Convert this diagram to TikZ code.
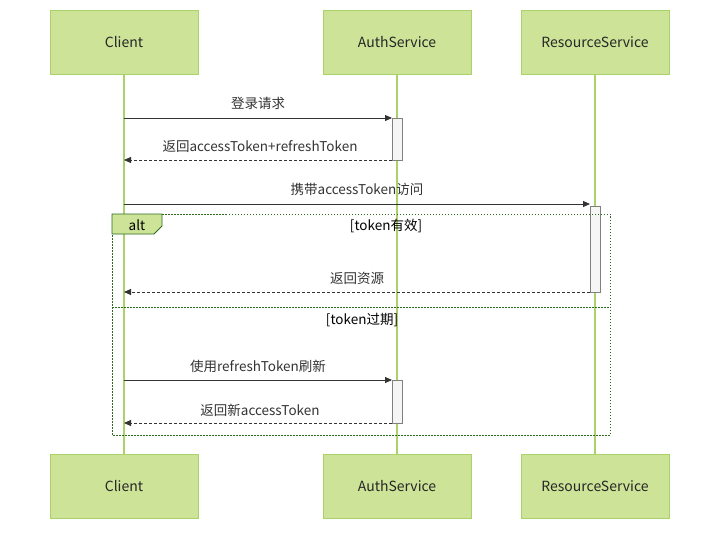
\documentclass[tikz,border=0pt]{standalone}
\usepackage{fontspec}
\setmainfont{Noto Sans CJK SC}
\usetikzlibrary{arrows.meta}
\definecolor{actfill}{HTML}{CDE498}
\definecolor{actline}{HTML}{A9D26A}
\definecolor{altline}{HTML}{2E6B1F}
\begin{document}
\begin{tikzpicture}[x=1pt,y=-1pt,
  actor/.style={draw=actline,fill=actfill,minimum width=148pt,minimum height=64pt,font=\fontsize{14}{16}\selectfont,text=black!85,line width=0.8pt},
  life/.style={draw=actline,line width=1.2pt},
  act/.style={draw=black!50,fill=black!4,line width=0.6pt},
  msg/.style={draw=black!80,line width=0.9pt,-{Triangle[length=7pt,width=6pt]}},
  ret/.style={msg,dash pattern=on 3pt off 2pt},
  lbl/.style={font=\fontsize{13.5}{15}\selectfont,text=black!80},
  alt/.style={draw=altline,line width=1pt,dash pattern=on 1.5pt off 1.5pt}]
\useasboundingbox (0,0) rectangle (727,535);
\node[actor] (c1) at (124,42) {Client};
\node[actor] (a1) at (397,42) {AuthService};
\node[actor] (r1) at (595,42) {ResourceService};
\node[actor] (c2) at (124,486) {Client};
\node[actor] (a2) at (397,486) {AuthService};
\node[actor] (r2) at (595,486) {ResourceService};
\draw[life] (c1.south) -- (c2.north);
\draw[life] (a1.south) -- (a2.north);
\draw[life] (r1.south) -- (r2.north);
% activations
\draw[act] (392,118) rectangle (402,160);
\draw[act] (590,206) rectangle (600,292);
\draw[act] (392,380) rectangle (402,423);
% alt box
\draw[alt] (112,214) rectangle (610,435);
\draw[alt] (112,307) -- (610,307);
\draw[altline,fill=actfill,line width=0.8pt] (112,214) -- (162,214) -- (162,226) -- (154,234) -- (112,234) -- cycle;
\node[lbl,text=black] (altl) at (137,225) {alt};
\node[lbl,text=black] (g1) at (386,226) {[token有效]};
\node[lbl,text=black] (g2) at (362,320) {[token过期]};
% coordinates
\coordinate (m1s) at (124,118); \coordinate (m1e) at (392,118);
\coordinate (m2s) at (392,160); \coordinate (m2e) at (124,160);
\coordinate (m3s) at (124,204); \coordinate (m3e) at (590,204);
\coordinate (m4s) at (590,292); \coordinate (m4e) at (124,292);
\coordinate (m5s) at (124,380); \coordinate (m5e) at (392,380);
\coordinate (m6s) at (392,423); \coordinate (m6e) at (124,423);
\draw[msg] (m1s) -- (m1e);
\draw[ret] (m2s) -- (m2e);
\draw[msg] (m3s) -- (m3e);
\draw[ret] (m4s) -- (m4e);
\draw[msg] (m5s) -- (m5e);
\draw[ret] (m6s) -- (m6e);
\node[lbl] (l1) at (258,103) {登录请求};
\node[lbl] (l2) at (260,146) {返回accessToken+refreshToken};
\node[lbl] (l3) at (357,189) {携带accessToken访问};
\node[lbl] (l4) at (357,278) {返回资源};
\node[lbl] (l5) at (258,366) {使用refreshToken刷新};
\node[lbl] (l6) at (260,410) {返回新accessToken};
\end{tikzpicture}
\end{document}
